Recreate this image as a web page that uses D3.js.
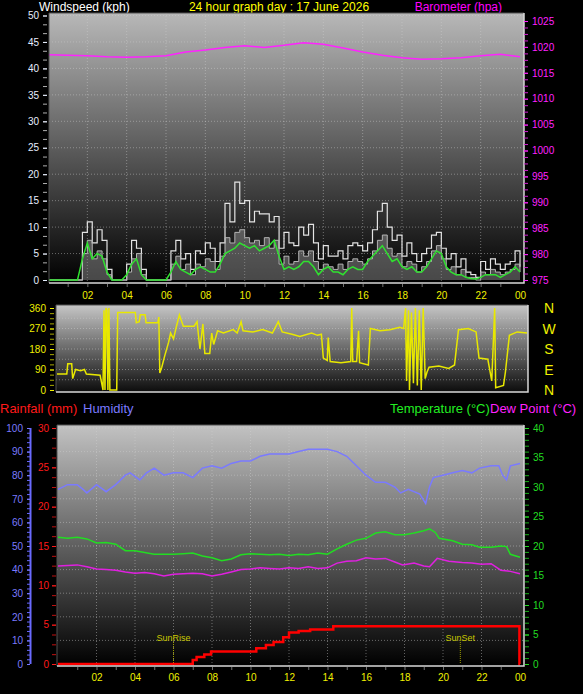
<!DOCTYPE html>
<html>
<head>
<meta charset="utf-8">
<script src="https://cdn.jsdelivr.net/npm/d3@7"></script>
<style>
  body { margin: 0; background: #000; }
  svg { display: block; font-family: "Liberation Sans", Arial, sans-serif; }
</style>
</head>
<body>
<svg id="chart" width="583" height="694"></svg>
<script>
// ---- data ----
// wind samples every 15 minutes, 00:00 .. 24:00
const windHours = d3.range(97).map(i => i / 4);
const windGust = [0,0,0,0,0,0,0,9,11,7,9.5,7.5,2,0,0,0,3,7.5,6,2,0,0,0,0,0,5.5,7.5,4,5,2,5.5,5,7,6,3.5,7,
  14.5,11,18.5,14.5,15,11,13,12.5,12.5,11,12,6,9,7,6.5,10,8.5,10.5,7,4,6.5,4.5,4.5,5.5,4,6.5,7,6.5,5.5,7,9.5,13,14.5,10,
  7.5,8.5,4.5,7,5,3.5,5,6,8.5,9,6,4,5,2.5,4,1.5,1,0.5,3.5,2,4,3,2,3,3.5,5.5,2.5];
const windSpeed = [0,0,0,0,0,0,0,5,7.5,4,5.5,4,1,0,0,0,1.5,4,5,1,0,0,0,0,0,3,4.5,2,3,1,3,2.5,4,3.5,2,4.5,
  8,7,9,9.5,8,7,7.5,6.5,8,6,7.5,3,4.5,3,3.5,5.5,4.5,5.5,3.5,2,3,2.5,2,3,2,3.5,4,3.5,3,4,5.5,7.5,8.5,6,
  4.5,5,2.5,3.5,3,1.5,2.5,3.5,5.5,6.5,4,2,2.5,1,2,0.5,0.5,0,1.5,1,2,1.5,1,1.5,2,3,1.5];
const windAvg = [0,0,0,0,0,0,0,4,7,4,5,4.5,1.5,0,0,0,1,3,4,1,0,0,0,0,0,1.5,3.5,2,1.5,1,2,2.5,2,1.5,1.5,3,
  5,5.5,6,7,6.5,6,6.5,5.5,6,6.5,7.5,4.5,2,2.5,2,2.5,3.5,3.5,2.5,1,2,2.5,1.5,1.5,1,2,2.5,2,2,3.5,4.5,5.5,6.5,5,
  3.5,4,2.5,2,2.5,1.5,1.5,2.5,4,5.5,5,2.5,1.5,1,1,0.5,0.3,0.2,0.5,1,1,1,0.5,1,1.5,2.5,1.5];

const baroHours = [0,1,2,3,4,5,6,7,8,9,10,11,12,13,14,15,16,17,18,19,20,21,22,23,24];
const baroHpa = [1018.5,1018.4,1018.3,1018.1,1018.0,1018.1,1018.3,1019.0,1019.4,1019.9,1020.2,1019.9,1020.3,
  1020.8,1020.5,1019.8,1019.0,1018.4,1017.9,1017.6,1017.7,1017.9,1018.3,1018.6,1018.1];

const dirHours = [0,0.5,0.55,0.75,0.8,0.95,1.2,1.4,1.5,2.2,2.35,2.4,2.45,2.5,2.55,2.6,2.65,2.7,3.05,3.1,4.0,4.05,
  4.2,4.25,4.5,4.55,5.15,5.2,5.25,5.35,5.5,5.7,5.8,5.95,6.1,6.25,6.45,7.0,7.15,7.3,7.45,7.55,7.8,7.9,8.0,8.2,8.5,
  9.0,9.2,9.4,9.5,10,10.5,11,11.3,11.5,12,12.4,13.0,13.3,13.5,13.6,13.8,13.85,13.95,14.5,15.0,15.05,15.1,15.3,
  15.4,15.45,15.9,16.0,16.5,17.0,17.5,17.7,17.8,17.85,17.95,18.0,18.1,18.2,18.3,18.4,18.5,18.6,18.7,18.8,18.9,
  19.0,19.5,20.0,20.3,20.5,21.0,21.4,21.55,22.0,22.2,22.35,22.4,22.8,22.9,23.1,23.5,24];
const dirDeg = [70,70,115,115,50,90,85,90,70,65,0,350,0,360,350,0,360,0,0,340,340,295,
  300,330,330,295,295,320,75,100,150,210,250,225,280,330,280,280,300,180,290,160,160,250,200,260,250,
  265,250,300,260,255,265,250,300,255,245,235,250,240,245,140,130,230,125,120,125,360,125,125,
  260,120,110,270,260,265,275,270,360,40,350,0,340,30,360,20,350,0,360,50,80,
  100,105,95,110,265,270,255,140,135,40,360,10,20,80,240,255,250];

const humHours = [0,0.5,1,1.3,1.5,2,2.5,3,3.5,3.75,4.25,4.6,5,5.5,6,6.5,7,7.5,8,8.5,9,9.5,10,10.5,11,11.5,12,
  12.5,13,13.5,14,14.5,15,15.5,16,16.5,17,17.5,17.8,18.2,18.8,19.1,19.3,19.5,20,20.5,21,21.5,21.9,22.5,22.9,
  23.1,23.3,23.5,24];
const humPct = [74,76,76,74,72.5,76,73,76,80,81,78,81,83,80,81,81,79,83,84,83,85,86,86,88,89,89,89,
  90,91,91,91,90,88,84,80,77,77,75,72.5,74,72,68,75,79,80,81,82,81,83,84,84,
  80,78,84,85];

const tdHours = [0,0.5,1,1.5,2,2.5,3,3.5,4,4.5,5,5.5,6,6.5,7,7.5,8,8.5,9,9.5,10,10.5,11,11.5,12,12.5,13,13.5,
  14,14.5,15,15.5,16,16.5,17,17.5,18,18.5,19,19.3,19.6,19.8,20.5,21,21.5,21.9,22.5,23,23.3,23.5,24];
const tempC = [21.5,21.3,21.5,21.2,20.5,20.6,20.3,19.2,19.2,18.9,18.6,18.6,18.6,18.7,18.8,18.3,18,17.5,17.8,18.5,
  18.7,18.6,18.5,18.6,18.4,18.6,18.5,18.8,18.6,19.5,20.3,21,21.3,22.2,22.4,21.9,21.9,22.2,22.6,22.9,22.3,21.3,
  20.9,20.3,20.2,19.8,19.8,20,19.9,18.6,18.1];
const dewHours = [0,0.5,1,1.5,2,2.5,3,3.5,4,4.5,5,5.5,6,6.5,7,7.5,8,8.5,9,9.5,10,10.5,11,11.5,12,12.5,13,13.5,
  14,14.5,15,15.5,16,16.5,17,17.5,17.9,18.5,19,19.3,19.7,20.3,21,21.5,22,22.5,23,23.5,24];
const dewC = [16.6,16.7,16.8,16.5,16.1,16,15.9,15.6,15.4,15.5,15.3,14.9,15.2,15.3,15.4,15.3,14.9,15.2,15.6,16,
  16.1,16.3,16.2,16.1,16.3,16.2,16.5,16.2,16.3,17.1,17.4,17.5,18,17.8,17.9,17.3,16.8,17.1,16.6,16.5,17.9,17.4,
  17.2,17.1,16.9,17,15.9,15.7,15.3];

const rainHours = [0,7.0,7.2,7.6,7.95,10.3,10.8,11.2,11.7,12.0,12.5,13.1,14.3,23.97,24];
const rainMm = [0,0.5,0.9,1.2,1.6,2.0,2.4,2.8,3.4,4.0,4.2,4.4,4.8,0,0];

const sunRise = 6.0, sunSet = 20.9;
const hourLabels = [2,4,6,8,10,12,14,16,18,20,22,24];
const compass = [["N",360],["W",270],["S",180],["E",90],["N",0]];

// ---- drawing ----
const svg = d3.select("#chart");
const font = '"Liberation Sans", Arial, sans-serif';
const fmtHour = h => d3.format("02d")(h % 24);

const defs = svg.append("defs");
function grad(id, top, mid, bottom) {
  const g = defs.append("linearGradient").attr("id", id).attr("x1", 0).attr("y1", 0).attr("x2", 0).attr("y2", 1);
  g.append("stop").attr("offset", 0).attr("stop-color", top);
  g.append("stop").attr("offset", 0.5).attr("stop-color", mid);
  g.append("stop").attr("offset", 1).attr("stop-color", bottom);
}
grad("gTop", "#b8b8b8", "#5c5c5c", "#000");
grad("gDir", "#c6c6c6", "#6a6a6a", "#0c0c0c");
grad("gBot", "#c2c2c2", "#606060", "#000");

function panel(id, x0, y0, x1, y1, fill) {
  defs.append("clipPath").attr("id", id).append("rect")
    .attr("x", x0).attr("y", y0).attr("width", x1 - x0).attr("height", y1 - y0);
  svg.append("rect").attr("x", x0).attr("y", y0).attr("width", x1 - x0).attr("height", y1 - y0)
    .attr("fill", fill);
}
function border(x0, y0, x1, y1) {
  svg.append("path").attr("d", `M${x0},${y1}V${y0}H${x1}`).attr("fill", "none").attr("stroke", "#505050");
  svg.append("path").attr("d", `M${x0},${y1}H${x1}V${y0}`).attr("fill", "none").attr("stroke", "#d8d8d8").attr("stroke-width", 1.5);
}
function styleAxis(g, color, size) {
  g.attr("font-family", font).attr("font-size", size || 10);
  g.select(".domain").remove();
  g.selectAll(".tick line").attr("stroke", color);
  g.selectAll(".tick text").attr("fill", color);
  return g;
}
function grid(xs, ys, hVals, vVals, x0, x1, y0, y1, clip) {
  const g = svg.append("g").attr("clip-path", `url(#${clip})`)
    .attr("stroke", "#d0d0d0").attr("stroke-opacity", 0.45).attr("stroke-dasharray", "1,2");
  hVals.forEach(v => g.append("line").attr("x1", x0).attr("x2", x1).attr("y1", ys(v)).attr("y2", ys(v)));
  vVals.forEach(v => g.append("line").attr("y1", y0).attr("y2", y1).attr("x1", xs(v)).attr("x2", xs(v)));
}

// header
svg.append("text").attr("x", 39).attr("y", 11).attr("fill", "#fff").attr("font-size", 12).text("Windspeed (kph)");
svg.append("text").attr("x", 279).attr("y", 11).attr("text-anchor", "middle").attr("fill", "#ffff00")
  .attr("font-size", 12).text("24 hour graph day : 17 June 2026");
svg.append("text").attr("x", 502).attr("y", 11).attr("text-anchor", "end").attr("fill", "#ff00ff")
  .attr("font-size", 12).text("Barometer (hpa)");

// ---- windspeed / barometer panel ----
const xTop = d3.scaleLinear().domain([0, 24]).range([48, 520]);
const yWind = d3.scaleLinear().domain([0, 50]).range([280, 15.5]);
const yBaro = d3.scaleLinear().domain([975, 1025]).range([280, 21]);

panel("cTop", 49, 13, 524, 283, "url(#gTop)");
grid(xTop, yWind, d3.range(5, 51, 5), hourLabels.slice(0, 11), 49, 524, 13, 283, "cTop");

const wind = windHours.map((h, i) => ({ h: h, gust: windGust[i], speed: windSpeed[i], avg: windAvg[i] }));
const gTop = svg.append("g").attr("clip-path", "url(#cTop)");
gTop.append("path").datum(wind)
  .attr("d", d3.area().curve(d3.curveStepAfter).x(d => xTop(d.h)).y0(yWind(0)).y1(d => yWind(d.speed)))
  .attr("fill", "#a0a0a0").attr("fill-opacity", 0.45);
gTop.append("path").datum(wind)
  .attr("d", d3.line().curve(d3.curveStepAfter).x(d => xTop(d.h)).y(d => yWind(d.gust)))
  .attr("fill", "none").attr("stroke", "#e4e4e4").attr("stroke-width", 1.2);
gTop.append("path").datum(wind)
  .attr("d", d3.line().curve(d3.curveStepAfter).x(d => xTop(d.h)).y(d => yWind(d.speed)))
  .attr("fill", "none").attr("stroke", "#b4b4b4").attr("stroke-width", 1);
gTop.append("path").datum(wind)
  .attr("d", d3.line().x(d => xTop(d.h)).y(d => yWind(d.avg)))
  .attr("fill", "none").attr("stroke", "#30e030").attr("stroke-width", 1.5);
gTop.append("path").datum(baroHours)
  .attr("d", d3.line().x(h => xTop(h)).y((h, i) => yBaro(baroHpa[i])))
  .attr("fill", "none").attr("stroke", "#ff22ff").attr("stroke-width", 1.5);
border(49, 13, 524, 283);

styleAxis(svg.append("g").attr("transform", "translate(47,0)")
  .call(d3.axisLeft(yWind).tickValues(d3.range(0, 50.01, 5 / 3)).tickSize(4).tickFormat("")), "#b0b0b0");
styleAxis(svg.append("g").attr("transform", "translate(47,0)")
  .call(d3.axisLeft(yWind).tickValues(d3.range(0, 51, 5)).tickSize(4).tickPadding(4)), "#e6eeff");
styleAxis(svg.append("g").attr("transform", "translate(524,0)")
  .call(d3.axisRight(yBaro).tickValues(d3.range(975, 1025.01, 1.25)).tickSize(4).tickFormat("")), "#d020d0");
styleAxis(svg.append("g").attr("transform", "translate(524,0)")
  .call(d3.axisRight(yBaro).tickValues(d3.range(975, 1026, 5)).tickSize(4).tickPadding(4)
    .tickFormat(d3.format("d"))), "#ff22ff");
styleAxis(svg.append("g").attr("transform", "translate(0,284)")
  .call(d3.axisBottom(xTop).tickValues(d3.range(1, 24)).tickSize(3).tickFormat("")), "#707070");
styleAxis(svg.append("g").attr("transform", "translate(0,284)")
  .call(d3.axisBottom(xTop).tickValues(hourLabels).tickSize(0).tickPadding(8).tickFormat(fmtHour)), "#f0f000");

// ---- wind direction panel ----
const xDir = d3.scaleLinear().domain([0, 24]).range([57, 527]);
const yDir = d3.scaleLinear().domain([0, 360]).range([390, 308]);

panel("cDir", 56, 305, 528, 392, "url(#gDir)");
grid(xDir, yDir, [45, 90, 135, 180, 225, 270, 315], [], 56, 528, 305, 392, "cDir");
svg.append("g").attr("clip-path", "url(#cDir)").append("path").datum(dirHours)
  .attr("d", d3.line().x(h => xDir(h)).y((h, i) => yDir(dirDeg[i])))
  .attr("fill", "none").attr("stroke", "#e8e800").attr("stroke-width", 1.5);
border(56, 305, 528, 392);

styleAxis(svg.append("g").attr("transform", "translate(54,0)")
  .call(d3.axisLeft(yDir).tickValues(d3.range(0, 361, 22.5)).tickSize(4).tickFormat("")), "#a8a800");
styleAxis(svg.append("g").attr("transform", "translate(54,0)")
  .call(d3.axisLeft(yDir).tickValues([0, 90, 180, 270, 360]).tickSize(4).tickPadding(4)), "#f0f000");

svg.append("g").selectAll("text").data(compass).join("text")
  .attr("x", 549).attr("y", d => yDir(d[1])).attr("dy", "0.36em").attr("text-anchor", "middle")
  .attr("fill", "#f0f000").attr("font-size", 14).text(d => d[0]);

// ---- rain / humidity / temperature panel ----
const xBot = d3.scaleLinear().domain([0, 24]).range([58, 520]);
const yRain = d3.scaleLinear().domain([0, 30]).range([664, 428]);
const yHum = d3.scaleLinear().domain([0, 100]).range([664, 428]);
const yTemp = d3.scaleLinear().domain([0, 40]).range([664, 428]);

svg.append("text").attr("x", 0).attr("y", 413).attr("fill", "#ff1a1a").attr("font-size", 13).text("Rainfall (mm)");
svg.append("text").attr("x", 83).attr("y", 413).attr("fill", "#7a7aff").attr("font-size", 13).text("Humidity");
svg.append("text").attr("x", 390).attr("y", 413).attr("fill", "#22ee22").attr("font-size", 13).text("Temperature (°C)");
svg.append("text").attr("x", 490).attr("y", 413).attr("fill", "#ff22ff").attr("font-size", 13).text("Dew Point (°C)");

panel("cBot", 57, 425, 524, 666, "url(#gBot)");
grid(xBot, yHum, d3.range(10, 101, 10), hourLabels.slice(0, 11), 57, 524, 425, 666, "cBot");

const gBot = svg.append("g").attr("clip-path", "url(#cBot)");
[[sunRise, "SunRise"], [sunSet, "SunSet"]].forEach(s => {
  gBot.append("line").attr("x1", xBot(s[0])).attr("x2", xBot(s[0])).attr("y1", 642).attr("y2", yRain(0))
    .attr("stroke", "#a0a000").attr("stroke-dasharray", "1,1");
  gBot.append("text").attr("x", xBot(s[0])).attr("y", 641).attr("text-anchor", "middle")
    .attr("fill", "#c8c800").attr("font-size", 9).text(s[1]);
});
gBot.append("path").datum(humHours)
  .attr("d", d3.line().x(h => xBot(h)).y((h, i) => yHum(humPct[i])))
  .attr("fill", "none").attr("stroke", "#7a7aff").attr("stroke-width", 1.5);
gBot.append("path").datum(tdHours)
  .attr("d", d3.line().x(h => xBot(h)).y((h, i) => yTemp(tempC[i])))
  .attr("fill", "none").attr("stroke", "#22dd22").attr("stroke-width", 1.5);
gBot.append("path").datum(dewHours)
  .attr("d", d3.line().x(h => xBot(h)).y((h, i) => yTemp(dewC[i])))
  .attr("fill", "none").attr("stroke", "#e020e0").attr("stroke-width", 1.5);
gBot.append("path").datum(rainHours)
  .attr("d", d3.line().curve(d3.curveStepAfter).x(h => xBot(h)).y((h, i) => yRain(rainMm[i])))
  .attr("fill", "none").attr("stroke", "#ff0000").attr("stroke-width", 2.5);
border(57, 425, 524, 666);

// humidity axis with its own blue spine
svg.append("line").attr("x1", 30.5).attr("x2", 30.5).attr("y1", yHum(100)).attr("y2", yHum(0))
  .attr("stroke", "#6a6aff").attr("stroke-width", 2);
styleAxis(svg.append("g").attr("transform", "translate(30,0)")
  .call(d3.axisLeft(yHum).tickValues(d3.range(0, 101, 2)).tickSize(3).tickFormat("")), "#6a6aff");
styleAxis(svg.append("g").attr("transform", "translate(30,0)")
  .call(d3.axisLeft(yHum).tickValues(d3.range(0, 101, 10)).tickSize(3).tickPadding(4)), "#7a7aff");
styleAxis(svg.append("g").attr("transform", "translate(56,0)")
  .call(d3.axisLeft(yRain).tickValues(d3.range(0, 30.01, 1.25)).tickSize(4).tickFormat("")), "#c01010");
styleAxis(svg.append("g").attr("transform", "translate(56,0)")
  .call(d3.axisLeft(yRain).tickValues(d3.range(0, 31, 5)).tickSize(4).tickPadding(3)), "#ff1a1a");
styleAxis(svg.append("g").attr("transform", "translate(525,0)")
  .call(d3.axisRight(yTemp).tickValues(d3.range(0, 41, 1)).tickSize(4).tickFormat("")), "#18b018");
styleAxis(svg.append("g").attr("transform", "translate(525,0)")
  .call(d3.axisRight(yTemp).tickValues(d3.range(0, 41, 5)).tickSize(4).tickPadding(4)), "#22dd22");
styleAxis(svg.append("g").attr("transform", "translate(0,667)")
  .call(d3.axisBottom(xBot).tickValues(d3.range(1, 24)).tickSize(3).tickFormat("")), "#707070");
styleAxis(svg.append("g").attr("transform", "translate(0,667)")
  .call(d3.axisBottom(xBot).tickValues(hourLabels).tickSize(0).tickPadding(7).tickFormat(fmtHour)), "#f0f000");
</script>
</body>
</html>
